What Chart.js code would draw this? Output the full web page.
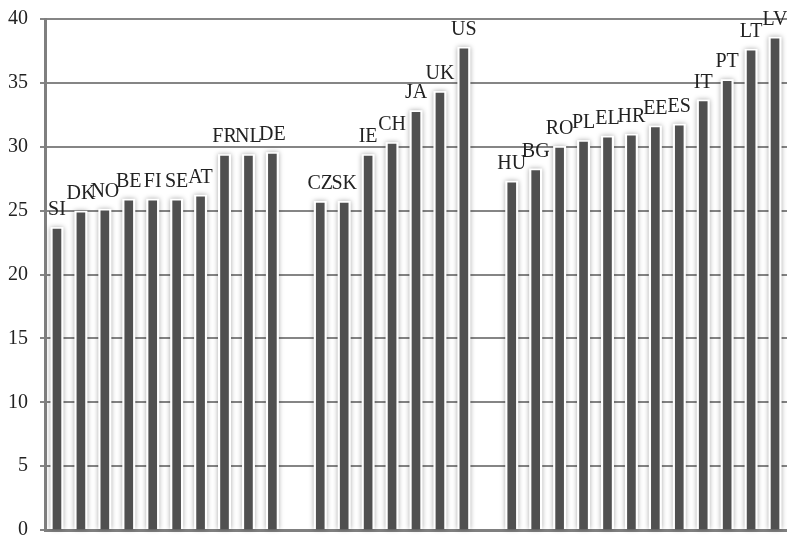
<!DOCTYPE html>
<html>
<head>
<meta charset="utf-8">
<script src="https://cdn.jsdelivr.net/npm/chart.js@4"></script>
<style>
  html, body { margin: 0; padding: 0; background: #fff; }
  #wrap { width: 787px; height: 538px; }
</style>
</head>
<body>
<div id="wrap"><canvas id="myChart"></canvas></div>
<script>
  // country codes, empty strings are the gaps between the three groups
  const countries = ["SI", "DK", "NO", "BE", "FI", "SE", "AT", "FR", "NL", "DE", "",
    "CZ", "SK", "IE", "CH", "JA", "UK", "US", "",
    "HU", "BG", "RO", "PL", "EL", "HR", "EE", "ES", "IT", "PT", "LT", "LV"];
  const values = [23.55, 24.83, 24.98, 25.77, 25.77, 25.77, 26.08, 29.26, 29.26, 29.42, null,
    25.6, 25.6, 29.26, 30.2, 32.7, 34.2, 37.66, null,
    27.18, 28.14, 29.9, 30.36, 30.7, 30.85, 31.5, 31.64, 33.54, 35.13, 37.5, 38.45];
  const yMin = 0;
  const yMax = 40;
  const yStep = 5;

  const FONT = "Liberation Serif";

  // soft glow behind each bar (hides the grid lines next to the bars)
  const glowPlugin = {
    id: "glow",
    beforeDatasetsDraw(chart) {
      const ctx = chart.ctx;
      const meta = chart.getDatasetMeta(0);
      ctx.save();
      ctx.fillStyle = "#ffffff";
      ctx.shadowColor = "rgba(0,0,0,0.35)";
      ctx.shadowBlur = 5;
      meta.data.forEach((bar, i) => {
        if (values[i] == null) return;
        const w = bar.width + 5;
        ctx.fillRect(bar.x - w / 2, bar.y - 2, w, bar.base - bar.y + 2);
      });
      ctx.restore();
    }
  };

  // country label on top of each bar
  const labelPlugin = {
    id: "barLabels",
    afterDatasetsDraw(chart) {
      const ctx = chart.ctx;
      const meta = chart.getDatasetMeta(0);
      ctx.save();
      ctx.font = "20px '" + FONT + "'";
      ctx.fillStyle = "#222";
      ctx.textAlign = "center";
      ctx.textBaseline = "alphabetic";
      meta.data.forEach((bar, i) => {
        if (values[i] == null) return;
        ctx.fillText(countries[i], bar.x, bar.y - 14);
      });
      ctx.restore();
    }
  };

  const ctx = document.getElementById("myChart").getContext("2d");
  const myChart = new Chart(ctx, {
    type: "bar",
    data: {
      labels: countries,
      datasets: [{
        data: values,
        backgroundColor: "#505050",
        borderWidth: 0,
        barThickness: 8,
      }],
    },
    options: {
      responsive: true,
      maintainAspectRatio: false,
      animation: false,
      devicePixelRatio: 1,
      layout: { padding: { left: 0, top: 19, right: 0, bottom: 8 } },
      plugins: {
        legend: { display: false },
        tooltip: { enabled: false },
      },
      scales: {
        x: {
          grid: { display: false, drawTicks: false },
          ticks: { display: false },
          border: { display: true, color: "#7f7f7f", width: 3 },
          afterFit(scale) { scale.height = 0; },
        },
        y: {
          min: yMin,
          max: yMax,
          ticks: {
            stepSize: yStep,
            padding: 12,
            color: "#222",
            font: { family: FONT, size: 20 },
          },
          grid: { color: "#858585", lineWidth: 2, tickLength: 5 },
          border: { display: true, color: "#7f7f7f", width: 3 },
          afterFit(scale) {
            scale.width = 45;
            scale.paddingTop = 0;
            scale.paddingBottom = 0;
          },
        },
      },
    },
    plugins: [glowPlugin, labelPlugin],
  });
</script>
</body>
</html>
